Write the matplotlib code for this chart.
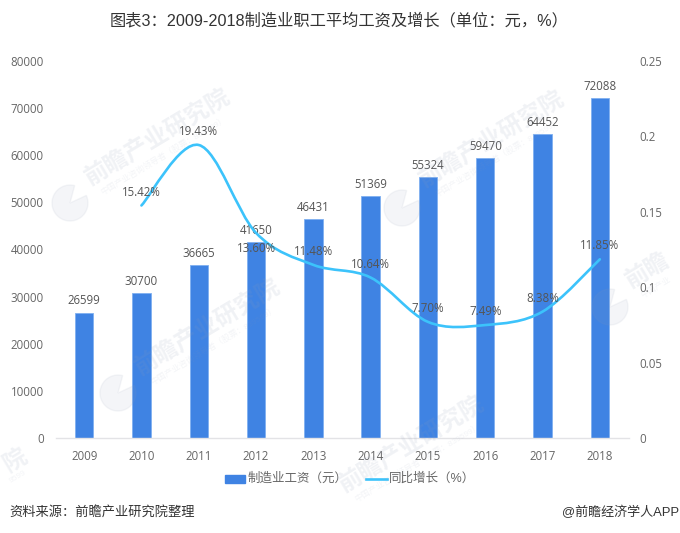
import numpy as np
import matplotlib
matplotlib.use("Agg")
import matplotlib.pyplot as plt
from matplotlib.path import Path
from matplotlib.patches import PathPatch, Wedge

plt.rcParams['font.family'] = ['Open Sans', 'Noto Sans CJK SC', 'DejaVu Sans']

years = ['2009', '2010', '2011', '2012', '2013', '2014', '2015', '2016', '2017', '2018']
wages = [26599, 30700, 36665, 41650, 46431, 51369, 55324, 59470, 64452, 72088]
growth_years = ['2010', '2011', '2012', '2013', '2014', '2015', '2016', '2017', '2018']
growth = [0.1542, 0.1943, 0.1360, 0.1148, 0.1064, 0.0770, 0.0749, 0.0838, 0.1185]
growth_labels = ['15.42%', '19.43%', '13.60%', '11.48%', '10.64%', '7.70%', '7.49%', '8.38%', '11.85%']

W, H = 680, 533
BLUE = '#3f83e3'
CYAN = '#3cc3fb'
GREY = '#666666'
cjk = ['Liberation Sans', 'Noto Sans CJK SC', 'DejaVu Sans']

fig = plt.figure(figsize=(W / 100, H / 100), dpi=100)
ax = fig.add_axes([55.5 / W, 1 - 438 / H, 573 / W, 377 / H])

x = np.arange(len(years))
ax.bar(x, wages, width=0.32, color=BLUE, edgecolor='#7fb0f0', linewidth=0.6, zorder=2)
ax.set_xlim(-0.5, 9.5)
ax.set_ylim(0, 80000)
ax.set_yticks(range(0, 80001, 10000))
ax.set_xticks(x)
ax.set_xticklabels(years)
ax.tick_params(length=0, labelsize=8.3, labelcolor=GREY)
ax.tick_params(axis='x', pad=9)
ax.tick_params(axis='y', pad=8.5)
for s in ['top', 'left', 'right']:
    ax.spines[s].set_visible(False)
ax.spines['bottom'].set_color('#e3e3e6')
ax.spines['bottom'].set_linewidth(1)

ax2 = ax.twinx()
ax2.set_ylim(0, 0.25)
ax2.set_yticks([0, 0.05, 0.1, 0.15, 0.2, 0.25])
ax2.set_yticklabels(['0', '0.05', '0.1', '0.15', '0.2', '0.25'])
ax2.tick_params(length=0, labelsize=8.3, labelcolor=GREY, pad=8)
for s in ['top', 'left', 'right', 'bottom']:
    ax2.spines[s].set_visible(False)

# smoothed line, bezier through the values
gx = np.array([years.index(y) for y in growth_years], dtype=float)
gy = np.array(growth)
verts = [(gx[0], gy[0])]
codes = [Path.MOVETO]
for i in range(len(gx) - 1):
    a = max(i - 1, 0)
    b = min(i + 2, len(gx) - 1)
    verts.append((gx[i] + (gx[i + 1] - gx[a]) / 6, gy[i] + (gy[i + 1] - gy[a]) / 6))
    verts.append((gx[i + 1] - (gx[b] - gx[i]) / 6, gy[i + 1] - (gy[b] - gy[i]) / 6))
    verts.append((gx[i + 1], gy[i + 1]))
    codes += [Path.CURVE4] * 3
ax2.add_patch(PathPatch(Path(verts, codes), fill=False, edgecolor=CYAN, linewidth=1.9, capstyle='round', zorder=3))

for xi, v in zip(x, wages):
    ax.annotate(str(v), (xi, v), xytext=(0, 8.4), textcoords='offset points', ha='center', va='center',
                fontsize=8.3, color='#555555', zorder=5)
for xi, v, t, y in zip(gx, gy, growth_labels, growth_years):
    # the 2012 label sits under the line
    off = -11.5 if y == '2012' else 9.6
    ax2.annotate(t, (xi, v), xytext=(0, off), textcoords='offset points', ha='center', va='center',
                 fontsize=8.3, color='#555555', zorder=5)

# watermarks, the ones at the picture edge only show a part
marks = [(158, 138, '前瞻产业研究院'), (492, 140, '前瞻产业研究院'), (208, 328, '前瞻产业研究院'),
         (412, 445, '前瞻产业研究院'), (648, 271, '前瞻'), (15, 460, '院')]
for px, py, t in marks:
    fig.text(px / W, 1 - py / H, t, rotation=31, rotation_mode='anchor', ha='center', va='center',
             fontsize=17, fontweight='bold', family=cjk, color='#8f9bb5', alpha=0.13, zorder=6)
subs = [(164, 156, '中国产业咨询领导者（股票：839599）'), (498, 158, '中国产业咨询领导者（股票：839599）'),
        (214, 346, '中国产业咨询领导者（股票：839599）'), (418, 463, '中国产业咨询领导者（股票：839599）'),
        (656, 288, '中国产业'), (18, 477, '9599')]
for px, py, t in subs:
    fig.text(px / W, 1 - py / H, t, rotation=31, rotation_mode='anchor', ha='center', va='center',
             fontsize=6, family=cjk, color='#8f9bb5', alpha=0.10, zorder=6)
for px, py in [(70, 203), (402, 208), (118, 393), (610, 307)]:
    fig.add_artist(Wedge((px * 0.01, (H - py) * 0.01), 0.18, 75, 385, transform=fig.dpi_scale_trans,
                         color='#8f9bb5', alpha=0.09, zorder=6))

fig.text(339 / W, 1 - 21 / H, '图表3：2009-2018制造业职工平均工资及增长（单位：元，%）', ha='center', va='center',
         fontsize=11.7, family=cjk, color='#333333')

# legend
fig.add_artist(plt.Rectangle((225 / W, 1 - 483 / H), 20 / W, 8 / H, transform=fig.transFigure, color=BLUE))
fig.text(248 / W, 1 - 479 / H, '制造业工资（元）', ha='left', va='center', fontsize=9, family=cjk, color=GREY)
fig.add_artist(plt.Line2D([366 / W, 387 / W], [1 - 479 / H, 1 - 479 / H], color=CYAN, linewidth=1.9))
fig.text(389 / W, 1 - 479 / H, '同比增长（%）', ha='left', va='center', fontsize=9, family=cjk, color=GREY)

fig.text(9 / W, 1 - 512 / H, '资料来源：前瞻产业研究院整理', ha='left', va='center', fontsize=9.5, style='italic',
         family=cjk, color='#333333')
fig.text(679 / W, 1 - 512 / H, '@前瞻经济学人APP', ha='right', va='center', fontsize=9.4, family=cjk, color='#333333')

fig.savefig('out.png', dpi=100)
